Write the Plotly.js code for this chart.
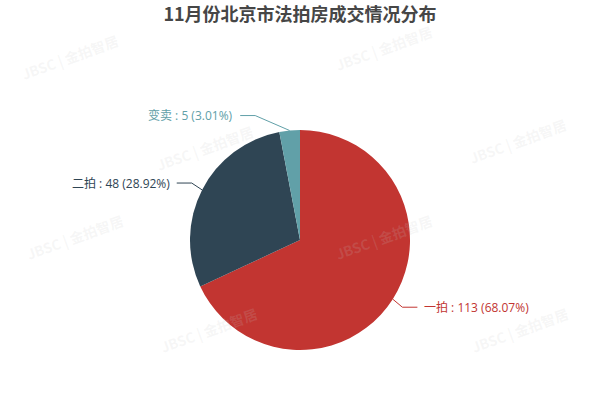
<!DOCTYPE html>
<html>
<head>
<meta charset="utf-8">
<script src="https://cdn.plot.ly/plotly-3.0.1.min.js"></script>
<style>html,body{margin:0;padding:0;background:#fff;}#chart{width:600px;height:400px;}</style>
</head>
<body>
<div id="chart"></div>
<script>
// ---- data ----
var categories = ['一拍', '二拍', '变卖'];
var counts = [113, 48, 5];
var percents = ['68.07%', '28.92%', '3.01%'];
var chartTitle = '11月份北京市法拍房成交情况分布';
var watermarkText = 'JBSC | 金拍智居';

// ---- style / layout config ----
var colors = ['#c23531', '#2f4554', '#61a0a8'];
var W = 600, H = 400;
var cx = 300, cy = 240, R = 110;
var L1 = 15, L2 = 15;
var elbowShiftX = [-3, 3, -33];   // label-layout adjustments (px)
var watermarkPos = [[70,57],[384,48],[205,148],[518,141],[75,237],[384,237],[209,330],[520,330]];

function px(x){ return x / W; }
function py(y){ return 1 - y / H; }

var total = counts.reduce(function(a,b){return a+b;}, 0);
var shapes = [], annotations = [];
var cum = 0;
for (var i = 0; i < counts.length; i++) {
  var frac = counts[i] / total;
  var mid = (cum + frac / 2) * 2 * Math.PI; // clockwise from 12 o'clock
  cum += frac;
  var dx = Math.sin(mid), dy = -Math.cos(mid);
  var p0 = [cx + R * dx, cy + R * dy];
  var p1 = [cx + (R + L1) * dx + elbowShiftX[i], cy + (R + L1) * dy];
  var right = dx >= 0;
  var p2 = [p1[0] + (right ? L2 : -L2), p1[1]];
  shapes.push({
    type: 'path', xref: 'paper', yref: 'paper',
    path: 'M ' + px(p0[0]) + ' ' + py(p0[1]) + ' L ' + px(p1[0]) + ' ' + py(p1[1]) + ' L ' + px(p2[0]) + ' ' + py(p2[1]),
    line: {color: colors[i], width: 1}
  });
  annotations.push({
    xref: 'paper', yref: 'paper',
    x: px(p2[0] + (right ? 5 : -5)), y: py(p2[1]),
    xanchor: right ? 'left' : 'right', yanchor: 'middle',
    text: categories[i] + ' : ' + counts[i] + ' (' + percents[i] + ')',
    showarrow: false,
    font: {family: '"Open Sans", "Noto Sans CJK SC", sans-serif', size: 12, color: colors[i]}
  });
}
watermarkPos.forEach(function(p){
  annotations.push({
    xref: 'paper', yref: 'paper', x: px(p[0]), y: py(p[1]),
    xanchor: 'center', yanchor: 'middle',
    text: '<b>' + watermarkText + '</b>', showarrow: false, textangle: -20,
    font: {family: '"Noto Sans CJK SC", sans-serif', size: 14, color: 'rgba(200,200,200,0.16)'}
  });
});

var trace = {
  type: 'pie',
  labels: categories,
  values: counts,
  sort: false,
  direction: 'clockwise',
  rotation: 0,
  textinfo: 'none',
  hoverinfo: 'label+value+percent',
  marker: {colors: colors, line: {width: 0}},
  domain: {x: [px(cx - R), px(cx + R)], y: [py(cy + R), py(cy - R)]},
  showlegend: false
};

var layout = {
  width: W, height: H,
  margin: {l: 0, r: 0, t: 0, b: 0},
  paper_bgcolor: '#ffffff',
  title: {
    text: '<b>' + chartTitle + '</b>',
    x: 0.5, xanchor: 'center', xref: 'paper',
    y: py(15), yanchor: 'middle', yref: 'paper',
    font: {family: '"Noto Sans CJK SC", sans-serif', size: 18, color: '#464646'}
  },
  shapes: shapes,
  annotations: annotations
};

Plotly.newPlot('chart', [trace], layout, {displayModeBar: false, staticPlot: true});
</script>
</body>
</html>
